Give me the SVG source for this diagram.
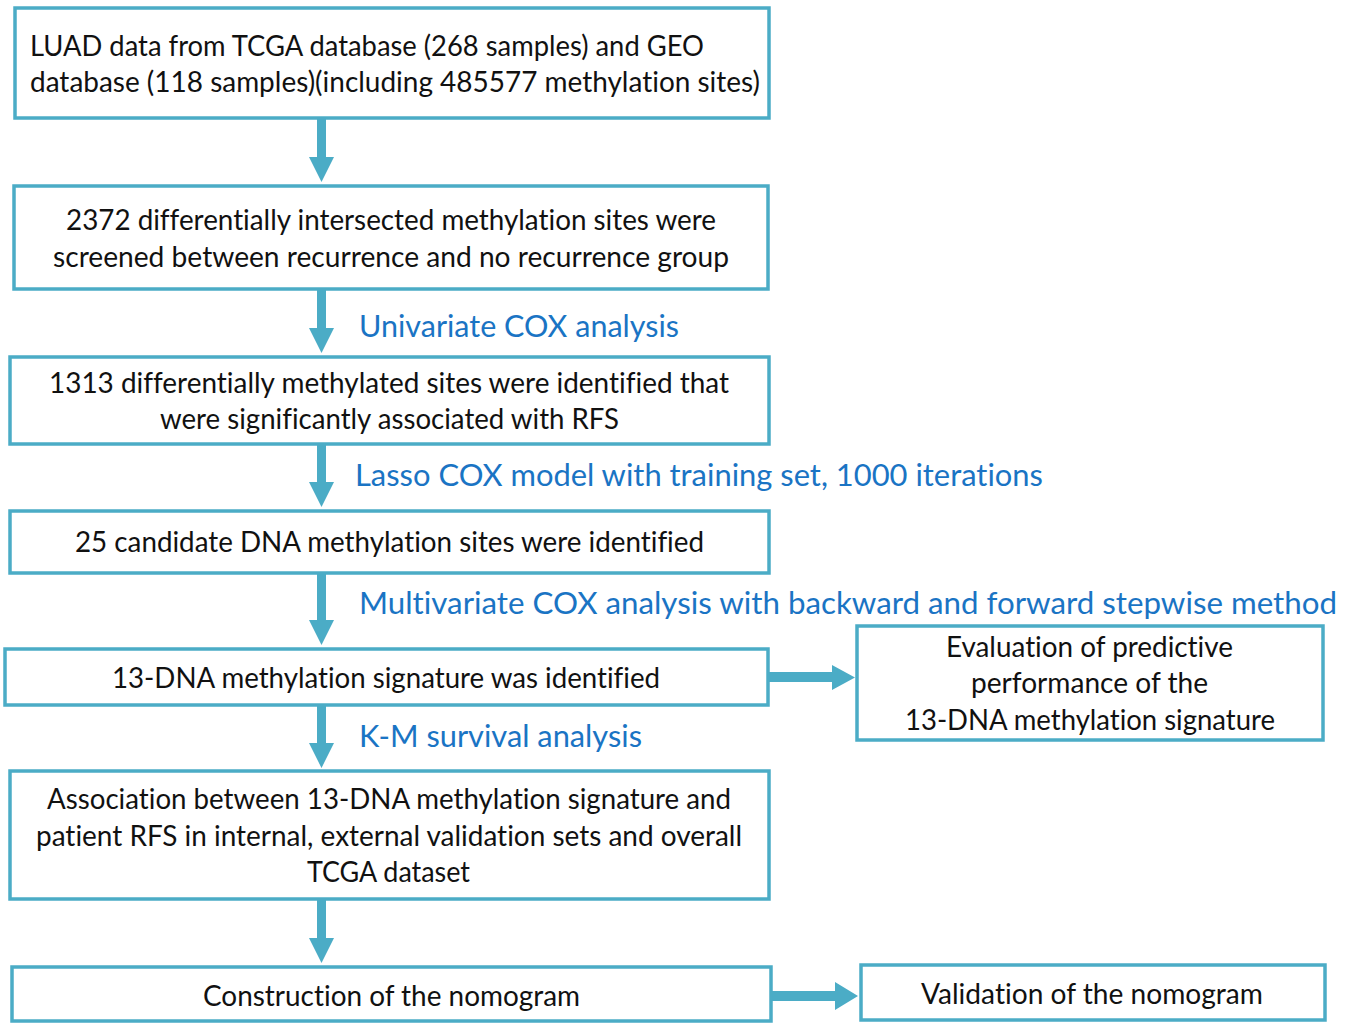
<svg xmlns="http://www.w3.org/2000/svg" width="1352" height="1023" viewBox="0 0 1352 1023">
<style>
.box{fill:#fff;stroke:#4BACC6;stroke-width:3.5}
.t{font-family:Lato,"Open Sans","Liberation Sans",sans-serif;font-size:29px;fill:#111;font-variant-ligatures:none}
.lbl{font-family:Lato,"Open Sans","Liberation Sans",sans-serif;font-size:30px;fill:#1A74C4;font-variant-ligatures:none}
.arr{fill:#4BACC6}
</style>
<rect width="1352" height="1023" fill="#fff"/>
<g id="connectors">
<path class="arr" d="M317 118H326V157H334L321.5 182L309 157H317Z"/>
<path class="arr" d="M317 289H326V328H334L321.5 353L309 328H317Z"/>
<path class="arr" d="M317 444H326V482H334L321.5 507L309 482H317Z"/>
<path class="arr" d="M317 573H326V620H334L321.5 645L309 620H317Z"/>
<path class="arr" d="M317 705H326V743H334L321.5 768L309 743H317Z"/>
<path class="arr" d="M317 899H326V938H334L321.5 963L309 938H317Z"/>
<path class="arr" d="M769 672H832V665L855 677.5L832 690V682H769Z"/>
<path class="arr" d="M772 991H835V982L858 996L835 1010V1001H772Z"/>
</g>
<g id="n1"><rect class="box" x="15" y="8" width="754" height="110"/>
<text class="t" x="30" y="56" textLength="674" lengthAdjust="spacingAndGlyphs">LUAD data from TCGA database (268 samples) and GEO</text>
<text class="t" x="30" y="92" textLength="730" lengthAdjust="spacingAndGlyphs">database (118 samples)(including 485577 methylation sites)</text></g>
<g id="n2"><rect class="box" x="14" y="186" width="754" height="103"/>
<text class="t" x="66" y="230" textLength="650" lengthAdjust="spacingAndGlyphs">2372 differentially intersected methylation sites were</text>
<text class="t" x="53" y="267" textLength="676" lengthAdjust="spacingAndGlyphs">screened between recurrence and no recurrence group</text></g>
<text id="l1" class="lbl" x="359" y="337" textLength="320" lengthAdjust="spacingAndGlyphs">Univariate COX analysis</text>
<g id="n3"><rect class="box" x="10" y="357" width="759" height="87"/>
<text class="t" x="49" y="393" textLength="680" lengthAdjust="spacingAndGlyphs">1313 differentially methylated sites were identified that</text>
<text class="t" x="160" y="429" textLength="459" lengthAdjust="spacingAndGlyphs">were significantly associated with RFS</text></g>
<text id="l2" class="lbl" x="355" y="486" textLength="688" lengthAdjust="spacingAndGlyphs">Lasso COX model with training set, 1000 iterations</text>
<g id="n4"><rect class="box" x="10" y="511" width="759" height="62"/>
<text class="t" x="75" y="552" textLength="629" lengthAdjust="spacingAndGlyphs">25 candidate DNA methylation sites were identified</text></g>
<text id="l3" class="lbl" x="359" y="614" textLength="978" lengthAdjust="spacingAndGlyphs">Multivariate COX analysis with backward and forward stepwise method</text>
<g id="n5"><rect class="box" x="5" y="649" width="763" height="56"/>
<text class="t" x="112" y="688" textLength="548" lengthAdjust="spacingAndGlyphs">13-DNA methylation signature was identified</text></g>
<g id="n6"><rect class="box" x="857" y="626" width="466" height="114"/>
<text class="t" x="946" y="657" textLength="287" lengthAdjust="spacingAndGlyphs">Evaluation of predictive</text>
<text class="t" x="971" y="693" textLength="237" lengthAdjust="spacingAndGlyphs">performance of the</text>
<text class="t" x="905" y="730" textLength="370" lengthAdjust="spacingAndGlyphs">13-DNA methylation signature</text></g>
<text id="l4" class="lbl" x="359" y="747" textLength="283" lengthAdjust="spacingAndGlyphs">K-M survival analysis</text>
<g id="n7"><rect class="box" x="10" y="771" width="759" height="128"/>
<text class="t" x="47" y="809" textLength="684" lengthAdjust="spacingAndGlyphs">Association between 13-DNA methylation signature and</text>
<text class="t" x="36" y="846" textLength="706" lengthAdjust="spacingAndGlyphs">patient RFS in internal, external validation sets and overall</text>
<text class="t" x="307" y="882" textLength="163" lengthAdjust="spacingAndGlyphs">TCGA dataset</text></g>
<g id="n8"><rect class="box" x="12" y="967" width="759" height="54"/>
<text class="t" x="203" y="1006" textLength="377" lengthAdjust="spacingAndGlyphs">Construction of the nomogram</text></g>
<g id="n9"><rect class="box" x="861" y="965" width="464" height="55"/>
<text class="t" x="921" y="1004" textLength="342" lengthAdjust="spacingAndGlyphs">Validation of the nomogram</text></g>
</svg>
